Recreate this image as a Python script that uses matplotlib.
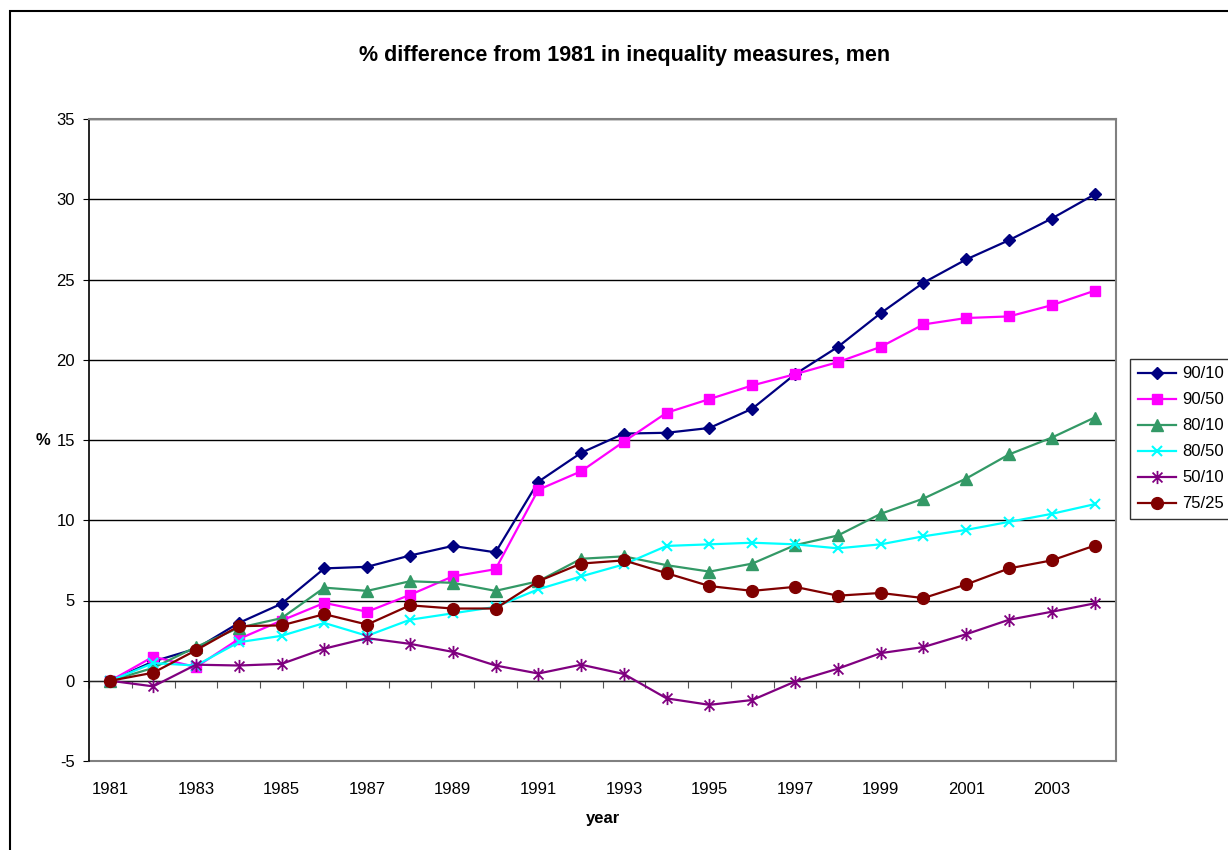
import numpy as np
import matplotlib
matplotlib.use('Agg')
import matplotlib.pyplot as plt
from matplotlib.path import Path
from matplotlib.patches import Rectangle

years = list(range(1981, 2005))

p90_10 = [0, 1.2, 2.0, 3.6, 4.8, 7.0, 7.1, 7.8, 8.4, 8.0, 12.4, 14.2, 15.4, 15.45,
          15.75, 16.95, 19.1, 20.8, 22.9, 24.8, 26.25, 27.45, 28.8, 30.3]
p90_50 = [0, 1.5, 0.85, 2.6, 3.75, 4.85, 4.3, 5.35, 6.5, 6.95, 11.9, 13.05, 14.9, 16.7,
          17.55, 18.4, 19.1, 19.85, 20.8, 22.2, 22.6, 22.7, 23.4, 24.3]
p80_10 = [0, 0.8, 2.1, 3.3, 3.9, 5.8, 5.6, 6.2, 6.1, 5.6, 6.2, 7.6, 7.75, 7.2,
          6.8, 7.3, 8.45, 9.05, 10.4, 11.35, 12.6, 14.1, 15.15, 16.4]
p80_50 = [0, 1.1, 0.95, 2.4, 2.8, 3.6, 2.8, 3.8, 4.2, 4.6, 5.7, 6.5, 7.25, 8.4,
          8.5, 8.6, 8.5, 8.25, 8.5, 9.0, 9.4, 9.9, 10.4, 11.0]
p50_10 = [0, -0.35, 1.0, 0.95, 1.05, 2.0, 2.65, 2.3, 1.8, 0.95, 0.45, 1.0, 0.42, -1.1,
          -1.5, -1.2, -0.05, 0.75, 1.72, 2.1, 2.9, 3.8, 4.3, 4.82]
p75_25 = [0, 0.5, 1.9, 3.4, 3.45, 4.15, 3.5, 4.7, 4.5, 4.5, 6.2, 7.3, 7.5, 6.7,
          5.9, 5.6, 5.85, 5.3, 5.47, 5.15, 6.0, 7.0, 7.5, 8.42]

labels = ['90/10', '90/50', '80/10', '80/50', '50/10', '75/25']
series = [p90_10, p90_50, p80_10, p80_50, p50_10, p75_25]

# asterisk marker: vertical stroke plus a cross
star = Path([(0, -1), (0, 1), (-0.75, -0.75), (0.75, 0.75), (-0.75, 0.75), (0.75, -0.75)],
            [Path.MOVETO, Path.LINETO] * 3)

styles = [
    dict(color='#000080', marker='D', ms=6.5),
    dict(color='#FF00FF', marker='s', ms=7.5),
    dict(color='#339966', marker='^', ms=8),
    dict(color='#00FFFF', marker='x', ms=7.5, mew=1.5),
    dict(color='#800080', marker=star, ms=9.5, mew=1.3),
    dict(color='#800000', marker='o', ms=8.5),
]

plt.rcParams['font.family'] = ['Liberation Sans', 'DejaVu Sans']
plt.rcParams['axes.unicode_minus'] = False

fig = plt.figure(figsize=(12.28, 8.5), dpi=100)
W, H = 1228, 850
ax = fig.add_axes([89 / W, 1 - 761 / H, (1116 - 89) / W, (761 - 119) / H])

# outer chart border
fig.patches.append(Rectangle((10 / W, -0.1), 1.2, 1 - 11 / H + 0.1, transform=fig.transFigure,
                             fill=False, edgecolor='black', lw=1.5))

x = np.arange(len(years))
for lab, ys, st in zip(labels, series, styles):
    ax.plot(x, ys, lw=1.6, label=lab, mec=st['color'], zorder=3, **st)

ax.set_xlim(-0.5, len(years) - 0.5)
ax.set_ylim(-5, 35)
ax.set_yticks(np.arange(-5, 36, 5))
ax.tick_params(axis='y', direction='out', length=4, labelsize=12, pad=6)
for yv in np.arange(0, 36, 5):
    ax.axhline(yv, color='black', lw=1, zorder=1)

# category axis crosses at zero, labels sit under the plot area
ax.spines['bottom'].set_position(('data', 0))
ax.spines['bottom'].set_color('#222222')
ax.set_xticks(np.arange(-0.5, len(years), 1))
ax.set_xticklabels([])
ax.tick_params(axis='x', direction='out', length=5, color='#555555')
for i, yr in enumerate(years):
    if yr % 2 == 1:
        ax.text(i, -0.032, str(yr), transform=ax.get_xaxis_transform(),
                ha='center', va='top', fontsize=12)

for side in ['top', 'right']:
    ax.spines[side].set_color('#808080')
    ax.spines[side].set_linewidth(1.5)
ax.spines['left'].set_color('black')
ax.spines['left'].set_linewidth(1.2)
ax.plot([0, 1], [0, 0], transform=ax.transAxes, color='#808080', lw=1.5, clip_on=False, zorder=2)

fig.text(625 / W, 1 - 55 / H, '% difference from 1981 in inequality measures, men',
         ha='center', va='center', fontsize=15.5, fontweight='bold')
fig.text(43 / W, 1 - 440 / H, '%', ha='center', va='center', fontsize=12, fontweight='bold')
fig.text(603 / W, 1 - 818 / H, 'year', ha='center', va='center', fontsize=12, fontweight='bold')

leg = ax.legend(loc='upper left', bbox_to_anchor=(1130 / W, 1 - 359 / H),
                bbox_transform=fig.transFigure, fontsize=12, frameon=True, fancybox=False,
                handlelength=2.3, handletextpad=0.4, labelspacing=0.66, borderpad=0.45,
                borderaxespad=0)
leg.get_frame().set_edgecolor('black')
leg.get_frame().set_linewidth(1)

fig.savefig('out.png', dpi=100)
